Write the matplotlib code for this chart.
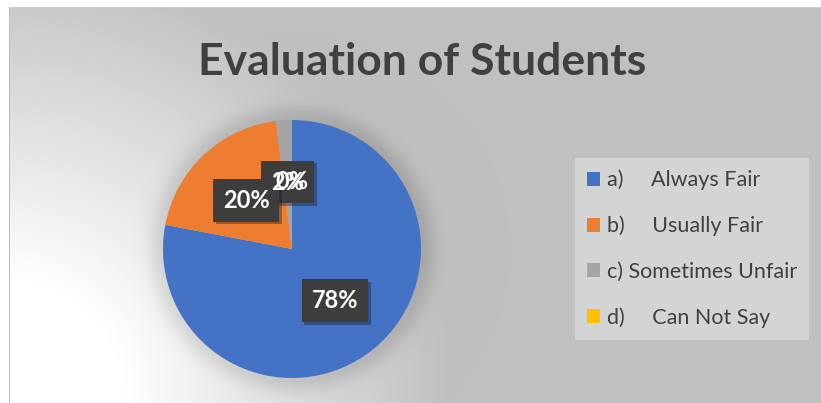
import numpy as np
import matplotlib.pyplot as plt
import matplotlib.patheffects as pe
from matplotlib.patches import Patch

labels = ['a)     Always Fair', 'b)     Usually Fair', 'c) Sometimes Unfair', 'd)     Can Not Say']
values = [78, 20, 2, 0]
colors = ['#4472c4', '#ed7d31', '#a5a5a5', '#ffc000']
title = 'Evaluation of Students'

W, H = 821, 403
cx, cy, R = 292, 249, 129
box_col = '#3d3d3d'

fig = plt.figure(figsize=(W / 100, H / 100), dpi=100)

# background: grey chart area, white glow bottom-left, soft shadow round the pie
yy, xx = np.mgrid[0:H, 0:W].astype(float)
rg = np.hypot(xx, yy - H)
bg = 0.75 + 0.25 * np.clip(1 - (rg - 120) / 330, 0, 1)
d = np.hypot(xx - cx, yy - cy) - R
bg -= 0.10 * np.exp(-(np.clip(d, 0, None) / 15) ** 2)
bg[(xx < 9) | (yy < 7)] = 1.0
bg[(xx == 9) & (yy >= 7)] = 0.74
bg[(yy == 7) & (xx >= 9)] = 0.80

bax = fig.add_axes([0, 0, 1, 1])
bax.imshow(bg, cmap='gray', vmin=0, vmax=1, extent=(0, W, H, 0), aspect='auto')
bax.set_xlim(0, W)
bax.set_ylim(H, 0)
bax.axis('off')

fig.text(422 / W, 1 - 62 / H, title, ha='center', va='center',
         fontsize=32, fontweight='bold', family='Lato', color='#404040')

ax = fig.add_axes([(cx - R) / W, (H - cy - R) / H, 2 * R / W, 2 * R / H])
tp = dict(fontsize=17, fontweight='bold', family='Lato', ha='center', va='center')
wedges, _, autotexts = ax.pie(values, colors=colors, startangle=90, counterclock=False,
                              autopct='%.0f%%', pctdistance=0.52,
                              wedgeprops=dict(linewidth=0),
                              textprops=dict(color=box_col, **tp))
# boxes first (label glyphs hidden in box colour), then all white texts on top
box_z = [3, 5, 4, 4]
for i, t in enumerate(autotexts):
    t.set_zorder(box_z[i])
    if i == 3:
        t.set_alpha(0)
    else:
        t.set_bbox(dict(boxstyle='square,pad=0.42', facecolor=box_col, edgecolor='none'))
        t.get_bbox_patch().set_path_effects([pe.SimplePatchShadow(offset=(2, -2), alpha=0.35),
                                             pe.Normal()])
    x, y = t.get_position()
    ax.text(x, y, t.get_text(), color='white', zorder=10, **tp)
ax.set_xlim(-1, 1)
ax.set_ylim(-1, 1)
ax.axis('off')

handles = [Patch(facecolor=c, edgecolor='none') for c in colors]
leg = fig.legend(handles, labels, loc='upper left',
                 bbox_to_anchor=(575 / W, 1 - 158 / H),
                 prop=dict(family='Lato', size=15.5), labelcolor='#404040',
                 frameon=True, fancybox=False, facecolor='#d4d4d4', edgecolor='none',
                 framealpha=1, handlelength=0.62, handleheight=0.62, handletextpad=0.3,
                 labelspacing=1.18, borderpad=0.55, borderaxespad=0)

fig.savefig('out.png', dpi=100)
